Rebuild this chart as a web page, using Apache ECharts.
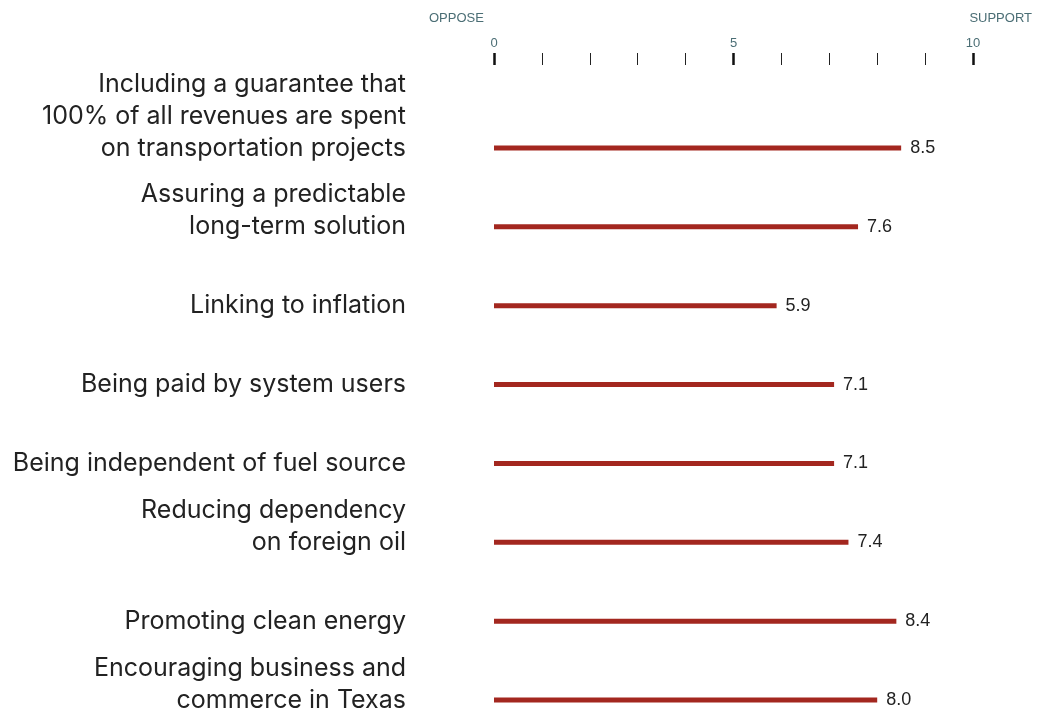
<!DOCTYPE html>
<html>
<head>
<meta charset="utf-8">
<script src="https://cdn.jsdelivr.net/npm/echarts@6/dist/echarts.min.js"></script>
<style>html,body{margin:0;padding:0;background:#fff}#c{width:1058px;height:714px}</style>
</head>
<body>
<div id="c"></div>
<script>
const categories = [
  "Including a guarantee that\n100% of all revenues are spent\non transportation projects",
  "Assuring a predictable\nlong-term solution",
  "Linking to inflation",
  "Being paid by system users",
  "Being independent of fuel source",
  "Reducing dependency\non foreign oil",
  "Promoting clean energy",
  "Encouraging business and\ncommerce in Texas"
];
const values = [8.5, 7.6, 5.9, 7.1, 7.1, 7.4, 8.4, 8.0];
const scaleMin = 0, scaleMax = 10;
const endLabels = ["OPPOSE", "SUPPORT"];

const FONT = '"Liberation Sans", Arial, Helvetica, sans-serif';
const CAT_FONT = 'Inter, "Liberation Sans", Arial, sans-serif';
const AXIS_COLOR = '#4b6e75';

const chart = echarts.init(document.getElementById('c'), null, {renderer: 'canvas'});
chart.setOption({
  animation: false,
  backgroundColor: '#fff',
  grid: {left: 494, right: 85, top: 148, bottom: 14, containLabel: false, outerBoundsMode: 'none'},
  xAxis: [
    {
      type: 'value', position: 'top', min: scaleMin, max: scaleMax, interval: 1,
      offset: 83,
      axisLine: {show: false},
      axisTick: {show: true, length: 12, lineStyle: {color: '#222', width: 1}},
      axisLabel: {show: false},
      splitLine: {show: false}
    },
    {
      type: 'value', position: 'top', min: scaleMin, max: scaleMax, interval: 5,
      offset: 83,
      axisLine: {show: false},
      axisTick: {show: true, length: 12, lineStyle: {color: '#111', width: 2.5}},
      axisLabel: {show: true, margin: 15, color: AXIS_COLOR, fontSize: 13, fontFamily: FONT},
      splitLine: {show: false}
    }
  ],
  yAxis: {
    type: 'category', data: categories, inverse: true, boundaryGap: false,
    axisLine: {show: false}, axisTick: {show: false}, splitLine: {show: false},
    axisLabel: {
      interval: 0, showMinLabel: true, showMaxLabel: true, hideOverlap: false,
      margin: 88, color: '#222', fontSize: 25, lineHeight: 32, fontFamily: CAT_FONT, align: 'right',
      formatter: function (v) {
        const n = v.split('\n').length;
        return v + '\n '.repeat(n - 1);
      }
    }
  },
  series: [{
    type: 'bar', data: values, xAxisIndex: 0, barWidth: 5,
    itemStyle: {color: '#a3271f'},
    label: {
      show: true, position: 'right', distance: 9, color: '#222', fontSize: 18, fontFamily: FONT,
      formatter: function (p) { return p.value.toFixed(1); }
    }
  }],
  graphic: [
    {type: 'text', left: 429, top: 12, style: {text: endLabels[0], fill: AXIS_COLOR, font: '13px ' + FONT}},
    {type: 'text', right: 26, top: 12, style: {text: endLabels[1], fill: AXIS_COLOR, font: '13px ' + FONT, textAlign: 'right'}}
  ]
});
</script>
</body>
</html>
